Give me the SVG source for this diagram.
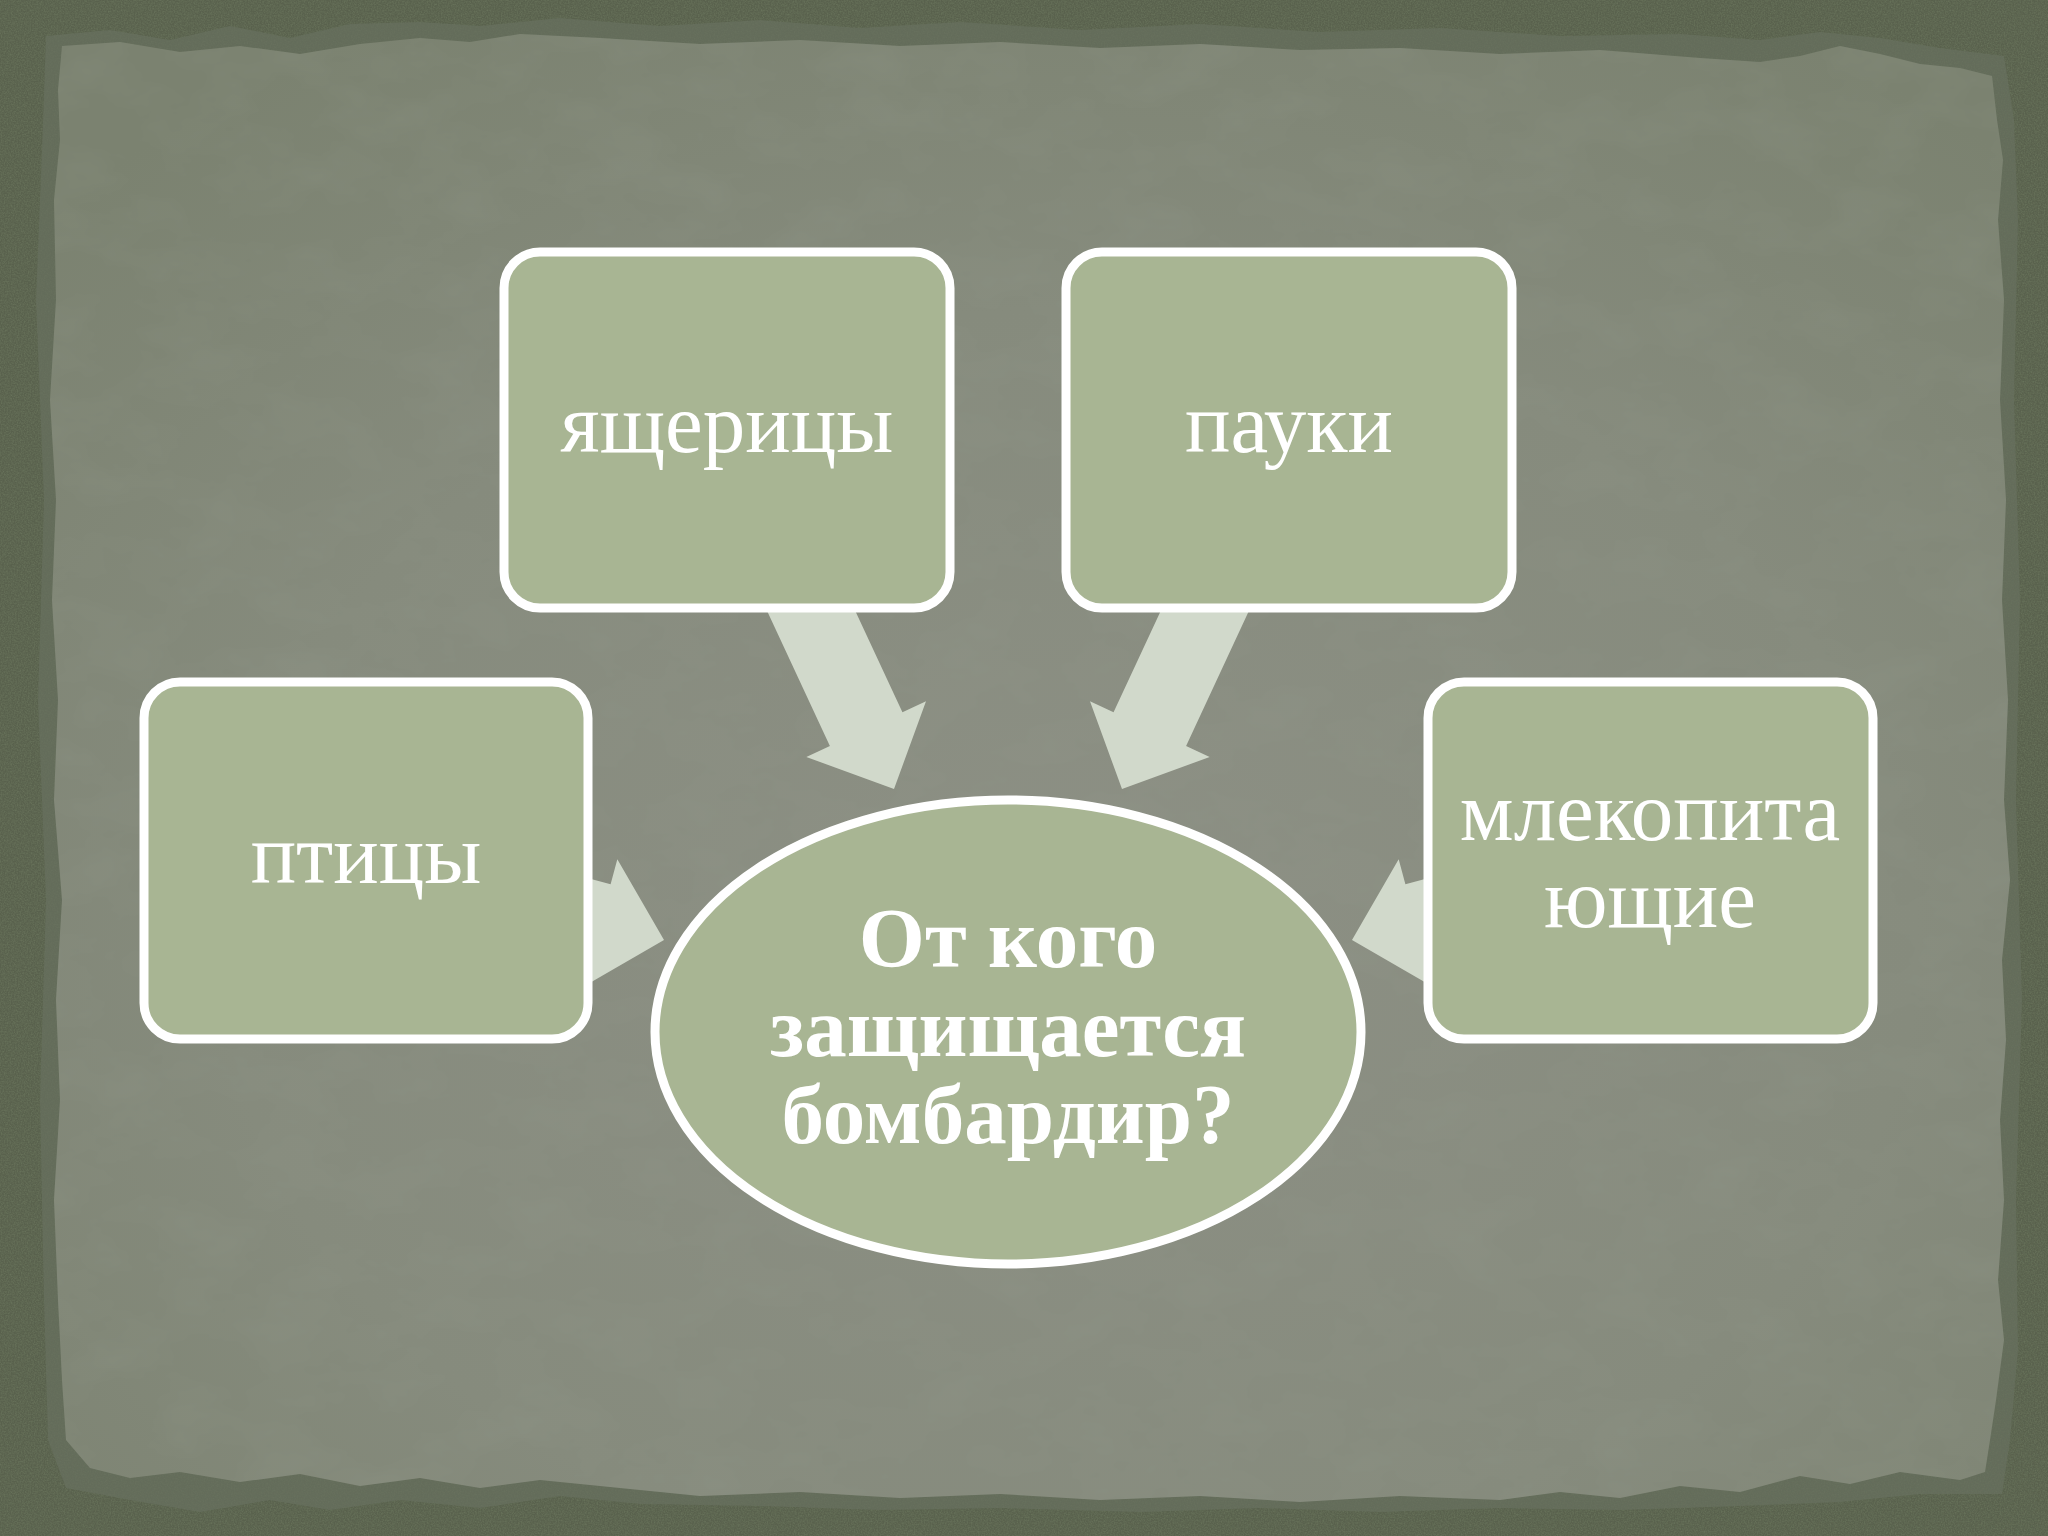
<svg xmlns="http://www.w3.org/2000/svg" width="2048" height="1536" viewBox="0 0 2048 1536">
  <style>
    .box { fill: #a8b593; stroke: #ffffff; stroke-width: 9; }
    .arrow { fill: #d1d9cb; stroke: none; }
    .lbl { font-family: "Liberation Serif", "DejaVu Serif", serif; font-size: 85px; fill: #ffffff; text-anchor: middle; }
    .big { font-family: "Liberation Serif", "DejaVu Serif", serif; font-size: 85px; font-weight: bold; fill: #ffffff; text-anchor: middle; }
  </style>
  <defs>
    <filter id="grain" x="0" y="0" width="100%" height="100%">
      <feTurbulence type="fractalNoise" baseFrequency="0.7" numOctaves="3" seed="3" result="n"/>
      <feColorMatrix type="matrix" values="0 0 0 0 0.16  0 0 0 0 0.2  0 0 0 0 0.12  1.1 0 0 0 -0.35"/>
    </filter>
    <filter id="mottle" x="0" y="0" width="100%" height="100%">
      <feTurbulence type="fractalNoise" baseFrequency="0.012 0.02" numOctaves="4" seed="7"/>
      <feColorMatrix type="matrix" values="0 0 0 0 0.3  0 0 0 0 0.33  0 0 0 0 0.27  0.4 0 0 0 -0.16"/>
    </filter>
    <radialGradient id="paperGrad" cx="52%" cy="62%" r="72%">
      <stop offset="0" stop-color="#8d9085"/>
      <stop offset="0.6" stop-color="#868b7d"/>
      <stop offset="1" stop-color="#7b8270"/>
    </radialGradient>
    <clipPath id="paperClip">
      <path id="paperShape" d="M62,46 L120,42 180,52 240,46 300,54 360,44 420,38 470,42 520,34 600,38 700,44 800,40 900,46 1000,42 1100,48 1200,44 1300,50 1400,48 1500,54 1600,50 1700,58 1760,62 1800,56 1840,46 1880,54 1920,64 1960,68 1992,76 1997,120 2003,160 1998,220 2004,300 2000,400 2006,500 2002,600 2008,700 2004,800 2010,880 2002,960 2006,1040 2000,1120 2004,1200 1998,1280 2004,1340 1996,1400 1990,1440 1985,1472 1960,1480 1900,1472 1850,1484 1800,1476 1740,1492 1680,1486 1620,1498 1560,1492 1500,1500 1400,1496 1300,1502 1200,1496 1100,1500 1000,1494 900,1498 800,1492 700,1496 600,1486 540,1480 480,1488 420,1478 360,1486 300,1474 240,1482 180,1472 130,1478 90,1468 66,1440 62,1380 58,1300 54,1200 60,1100 56,1000 62,900 54,800 58,700 52,600 56,500 50,400 56,300 54,200 60,140 58,90 Z"/>
    </clipPath>
  </defs>

  <g id="background">
    <rect x="0" y="0" width="2048" height="1536" fill="#59614d"/>
    <rect x="0" y="0" width="2048" height="1536" filter="url(#grain)"/>
    <path fill="#687060" opacity="0.7" d="M46,36 L110,30 170,40 230,26 290,38 350,24 420,22 480,26 560,18 660,26 760,20 860,28 960,22 1080,30 1200,24 1320,32 1440,28 1560,36 1680,34 1760,40 1820,32 1880,38 1940,48 2004,56 2014,120 2018,220 2014,400 2020,600 2016,800 2022,1000 2016,1200 2018,1350 2010,1440 2002,1494 1920,1494 1840,1502 1740,1506 1620,1510 1500,1508 1380,1512 1260,1508 1140,1512 1000,1508 880,1510 760,1506 640,1504 560,1496 480,1508 400,1500 330,1510 270,1500 200,1512 130,1500 66,1488 48,1440 44,1300 40,1100 46,900 38,700 44,500 36,300 42,150 Z"/>
    <use href="#paperShape" fill="url(#paperGrad)"/>
    <g clip-path="url(#paperClip)">
      <rect x="0" y="0" width="2048" height="1536" filter="url(#mottle)"/>
    </g>
  </g>

  <g id="connectors">
    <polygon class="arrow" points="0,0 -66,-66 -66,-40 -260,-40 -260,40 -66,40 -66,66" transform="translate(894,789) rotate(65.06)"/>
    <polygon class="arrow" points="0,0 -66,-66 -66,-40 -260,-40 -260,40 -66,40 -66,66" transform="translate(1122,789) rotate(114.94)"/>
    <polygon class="arrow" points="0,0 -66,-66 -66,-40 -260,-40 -260,40 -66,40 -66,66" transform="translate(664,940) rotate(15)"/>
    <polygon class="arrow" points="0,0 -66,-66 -66,-40 -260,-40 -260,40 -66,40 -66,66" transform="translate(1352,940) rotate(165)"/>
  </g>

  <g id="node-lizards">
    <rect class="box" x="504" y="252" width="446" height="356" rx="36" ry="36"/>
    <text class="lbl" x="727" y="452">ящерицы</text>
  </g>
  <g id="node-spiders">
    <rect class="box" x="1066" y="252" width="446" height="356" rx="36" ry="36"/>
    <text class="lbl" x="1289" y="452">пауки</text>
  </g>
  <g id="node-birds">
    <rect class="box" x="144" y="682" width="444" height="357" rx="36" ry="36"/>
    <text class="lbl" x="366" y="883">птицы</text>
  </g>
  <g id="node-mammals">
    <rect class="box" x="1428" y="682" width="445" height="357" rx="36" ry="36"/>
    <text class="lbl" x="1650" y="840">млекопита</text>
    <text class="lbl" x="1650" y="927">ющие</text>
  </g>
  <g id="node-center">
    <ellipse class="box" cx="1008" cy="1032" rx="353" ry="232"/>
    <text class="big" x="1008" y="967">От кого</text>
    <text class="big" x="1008" y="1056">защищается</text>
    <text class="big" x="1008" y="1143">бомбардир?</text>
  </g>
</svg>
